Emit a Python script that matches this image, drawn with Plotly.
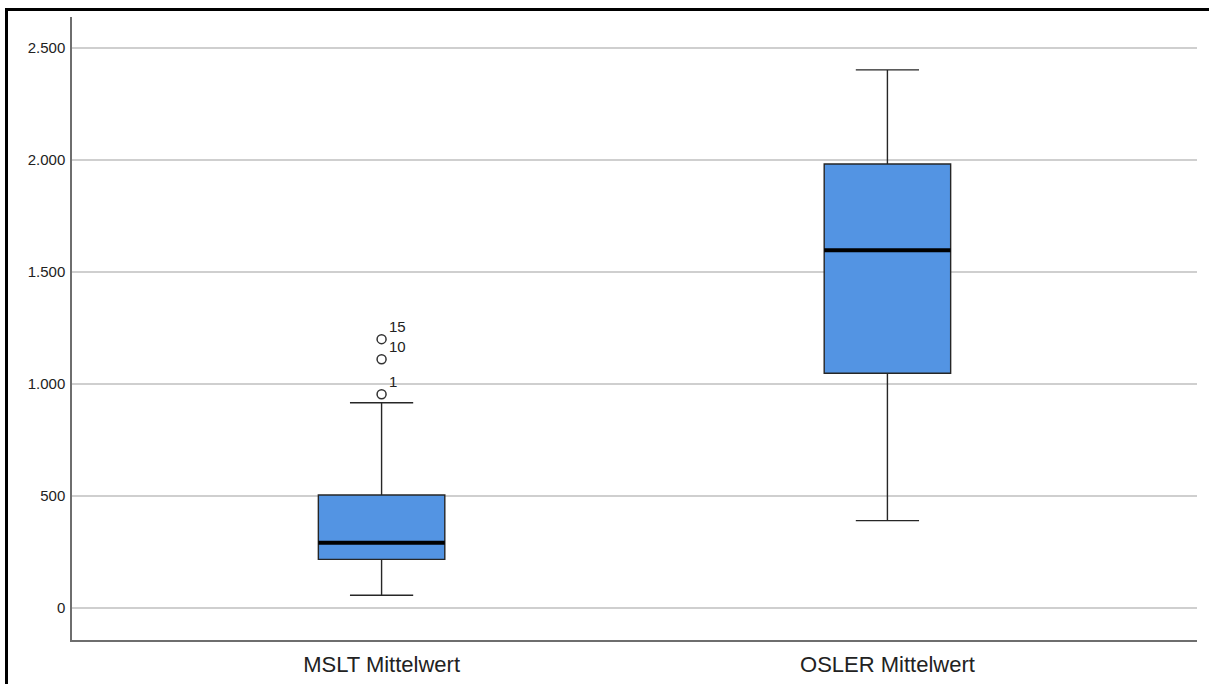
import plotly.graph_objects as go

# Boxplot summary statistics (Mittelwerte)
categories = ["MSLT Mittelwert", "OSLER Mittelwert"]
q1 = [217, 1048]
median = [291, 1597]
q3 = [504, 1982]
lower_whisker = [57, 390]
upper_whisker = [916, 2402]

# Outliers of the MSLT group with their case numbers
outlier_values = [954, 1110, 1200]
outlier_cases = ["1", "10", "15"]

y_ticks = [0, 500, 1000, 1500, 2000, 2500]

positions = list(range(len(categories)))
box_width = 0.25
box_fill = "#5394e3"
edge = "#262626"
font_family = "Liberation Sans, Arial, sans-serif"

fig = go.Figure()

for i, name in enumerate(categories):
    fig.add_trace(go.Box(
        x=[positions[i]],
        q1=[q1[i]], median=[median[i]], q3=[q3[i]],
        lowerfence=[lower_whisker[i]], upperfence=[upper_whisker[i]],
        width=box_width, whiskerwidth=0.5,
        fillcolor=box_fill,
        line=dict(color=edge, width=1.4),
        boxpoints=False, name=name, showlegend=False,
        hoverinfo="skip",
    ))
    # thick median bar
    fig.add_trace(go.Scatter(
        x=[positions[i] - box_width / 2, positions[i] + box_width / 2],
        y=[median[i], median[i]],
        mode="lines", line=dict(color="black", width=4),
        showlegend=False, hoverinfo="skip",
    ))

fig.add_trace(go.Scatter(
    x=[positions[0]] * len(outlier_values),
    y=outlier_values,
    mode="markers",
    marker=dict(symbol="circle-open", size=9, color="#333333",
                line=dict(width=1.5, color="#333333")),
    showlegend=False, hoverinfo="skip",
))

# case number labels next to the outliers
annotations = [
    dict(x=positions[0], y=v, xref="x", yref="y", text=c,
         showarrow=False, xanchor="left", yanchor="middle",
         xshift=5, yshift=13,
         font=dict(family=font_family, size=15, color="#222222"))
    for v, c in zip(outlier_values, outlier_cases)
]

plot_left, plot_right, plot_top, plot_bottom = 72, 1197, 17, 640
W, H = 1209, 684


def px_x(p):
    return (p - plot_left) / (plot_right - plot_left)


def px_y(p):
    return (plot_bottom - p) / (plot_bottom - plot_top)


fig.update_layout(
    width=W, height=H,
    margin=dict(l=plot_left, r=W - plot_right, t=plot_top, b=H - plot_bottom),
    paper_bgcolor="white", plot_bgcolor="white",
    separators=",.",
    font=dict(family=font_family, color="#222222"),
    xaxis=dict(
        range=[-0.612, 1.612],
        tickvals=positions, ticktext=categories,
        tickfont=dict(size=22, color="#222222"),
        showgrid=False, zeroline=False,
        showline=True, linecolor="#6e6e6e", linewidth=1.5,
        ticks="", ticklabelstandoff=4, automargin=False,
    ),
    yaxis=dict(
        range=[-143, 2638],
        tickvals=y_ticks, tickformat=",d",
        tickfont=dict(size=15, color="#222222"),
        showgrid=True, gridcolor="#cfcfcf", gridwidth=1.5,
        zeroline=False,
        showline=True, linecolor="#6e6e6e", linewidth=1.5,
        ticks="", ticklabelstandoff=2, automargin=False,
    ),
    annotations=annotations,
    shapes=[dict(
        type="rect", xref="paper", yref="paper",
        x0=px_x(6.5), x1=px_x(1215), y0=px_y(700), y1=px_y(9.5),
        line=dict(color="black", width=3), fillcolor="rgba(0,0,0,0)",
        layer="above",
    )],
)

fig.write_html("out.html")
